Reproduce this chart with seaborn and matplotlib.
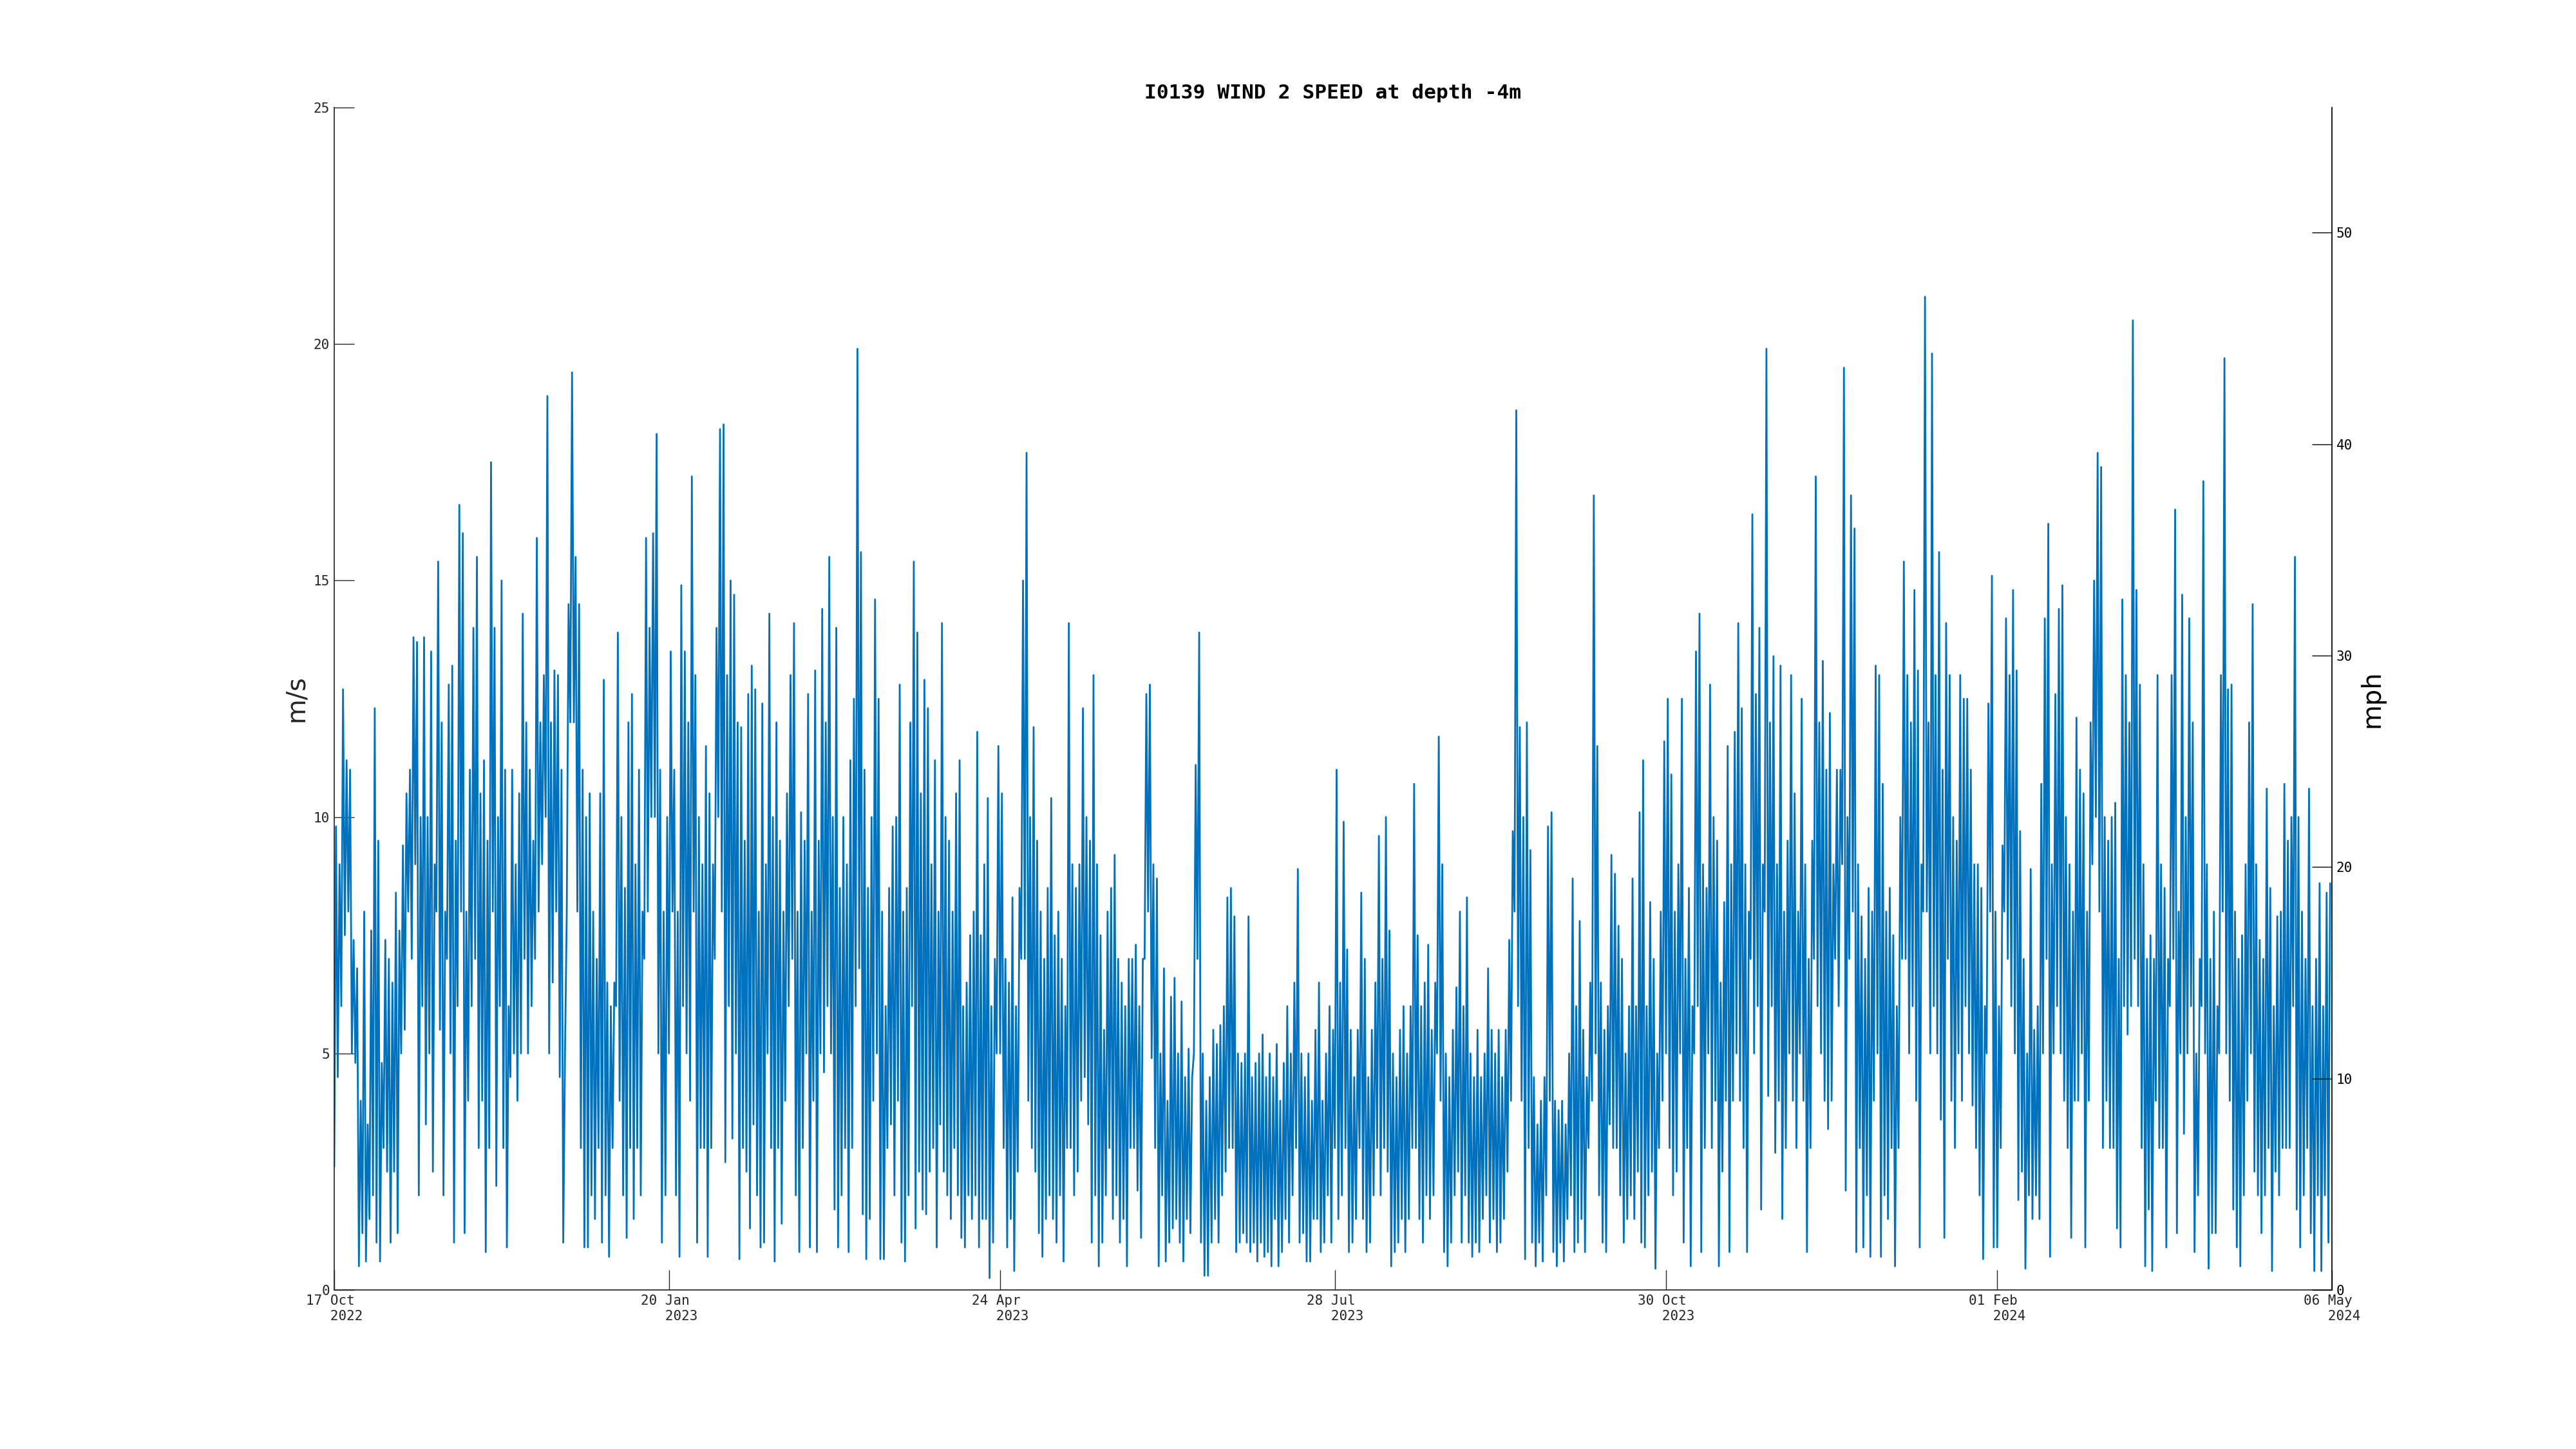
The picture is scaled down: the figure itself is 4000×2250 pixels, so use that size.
import numpy as np
import pandas as pd
import seaborn as sns
import matplotlib.pyplot as plt

# Wind speed (m/s), two samples per day (daily low / high)
oct_feb = [
    2.6, 9.8, 4.5, 9.0, 6.0, 12.7, 7.5, 11.2, 8.0, 11.0, 5.0, 7.4, 4.8, 6.8, 0.5, 4.0, 1.2, 8.0, 0.6, 3.5,
    1.5, 7.6, 2.0, 12.3, 1.0, 9.5, 0.6, 4.8, 3.0, 7.4, 2.5, 7.0, 1.0, 6.5, 2.5, 8.4, 1.2, 7.6, 5.0, 9.4,
    5.5, 10.5, 8.0, 11.0, 7.0, 13.8, 9.0, 13.7, 2.0, 10.0, 6.0, 13.8, 3.5, 10.0, 5.0, 13.5, 2.5, 9.0, 8.0, 15.4,
    5.5, 12.0, 2.0, 8.0, 7.0, 12.8, 5.0, 13.2, 1.0, 9.5, 6.0, 16.6, 8.0, 16.0, 1.2, 8.0, 4.0, 11.0, 6.0, 14.0,
    7.0, 15.5, 3.0, 10.5, 4.0, 11.2, 0.8, 9.5, 3.0, 17.5, 8.0, 14.0, 2.2, 10.0, 6.0, 15.0, 3.0, 11.0, 0.9, 6.0,
    4.5, 11.0, 5.0, 9.0, 4.0, 10.5, 5.0, 14.3, 7.0, 12.0, 5.0, 11.0, 6.0, 9.5, 7.0, 15.9, 8.0, 12.0, 9.0, 13.0,
    10.0, 18.9, 5.0, 12.0, 6.5, 13.1, 8.0, 13.0, 4.5, 11.0, 1.0, 5.0, 8.0, 14.5, 12.0, 19.4, 12.0, 15.5, 8.0, 14.5,
    3.0, 11.0, 0.9, 10.0, 0.9, 10.5, 2.0, 8.0, 1.5, 7.0, 3.0, 10.5, 1.0, 12.9, 2.0, 6.5, 0.7, 6.0, 3.0, 6.5,
    6.0, 13.9, 4.0, 10.0, 2.0, 8.5, 1.1, 12.0, 3.0, 12.6, 1.5, 9.0, 3.0, 11.0, 2.0, 8.0, 7.0, 15.9, 8.0, 14.0,
    10.0, 16.0, 10.0, 18.1, 5.0, 11.0, 1.0, 8.0, 2.0, 10.0, 5.0, 13.5, 8.0, 11.0, 2.0, 8.0, 0.7, 14.9, 6.0, 13.5,
    5.0, 12.0, 4.0, 17.2, 8.0, 13.0, 1.0, 10.0, 3.0, 9.0, 3.0, 11.5, 0.7, 10.5, 3.0, 9.0, 7.0, 14.0, 10.0, 18.2,
    8.0, 18.3, 2.7, 13.0, 6.0, 15.0,
]
feb_jun = [
    3.2, 14.7, 5.0, 12.0, 0.65, 11.9, 3.0, 9.5, 2.5, 12.6, 1.3, 13.2, 3.5, 12.7, 2.0, 8.0, 0.9, 12.4, 1.0, 9.0,
    5.0, 14.3, 3.0, 10.0, 0.6, 12.0, 3.0, 9.5, 1.4, 8.0, 4.0, 10.5, 6.0, 13.0, 7.0, 14.1, 2.0, 8.0, 0.8, 10.1,
    3.0, 9.5, 5.0, 12.6, 0.9, 8.0, 4.0, 13.1, 0.8, 9.5, 5.0, 14.4, 4.6, 12.0, 6.0, 15.5, 5.0, 10.0, 1.7, 14.0,
    0.9, 8.5, 2.0, 10.0, 3.0, 9.0, 0.8, 11.2, 3.0, 12.5, 6.0, 19.9, 6.8, 15.6, 1.6, 11.0, 0.65, 8.5, 1.5, 10.0,
    4.0, 14.6, 5.0, 12.5, 0.65, 8.0, 0.65, 6.0, 3.0, 8.5, 3.5, 9.8, 2.0, 10.0, 4.0, 12.8, 1.0, 8.0, 0.6, 8.5,
    2.0, 12.0, 6.0, 15.4, 1.3, 13.9, 2.5, 10.5, 1.7, 12.9, 1.6, 12.3, 2.5, 9.0, 3.0, 11.2, 0.9, 8.0, 3.5, 14.1,
    2.5, 10.0, 2.0, 9.5, 1.5, 8.0, 3.0, 10.5, 2.0, 11.2, 1.1, 6.0, 0.9, 6.5, 2.0, 7.5, 1.5, 8.0, 2.0, 11.8,
    0.9, 7.5, 1.5, 9.0, 1.5, 10.4, 0.25, 6.0, 1.0, 7.0, 5.0, 11.5, 5.0, 10.5, 3.0, 7.0, 0.9, 6.5, 1.5, 8.3,
    0.4, 6.0, 2.5, 8.5, 7.0, 15.0, 7.0, 17.7, 4.0, 10.0, 3.0, 11.9, 2.5, 9.5, 1.2, 8.0, 0.7, 7.0, 1.5, 8.5,
    2.0, 10.4, 1.5, 7.5, 1.0, 8.0, 2.0, 7.0, 0.6, 6.0, 3.0, 14.1, 3.0, 9.0, 2.0, 8.5, 2.5, 9.0, 4.0, 12.3,
    4.5, 10.0, 3.5, 9.5, 1.0, 13.0, 2.0, 9.0, 0.5, 7.5, 1.0, 5.5, 2.0, 8.0, 3.0, 8.5, 1.5, 9.2, 2.0, 7.0,
    1.0, 6.5, 1.5, 6.0, 0.5, 7.0, 3.0, 7.0,
]
jun_sep = [
    3.0, 7.3, 2.1, 6.0, 1.1, 7.0, 7.0, 12.6, 8.0, 12.8, 4.9, 9.0, 3.0, 8.7, 0.5, 5.0, 2.0, 6.8, 0.6, 4.0,
    1.0, 6.2, 1.3, 6.6, 1.5, 5.0, 1.0, 6.1, 0.6, 4.5, 1.5, 5.1, 1.2, 4.5, 5.0, 11.1, 7.0, 13.9, 1.0, 5.0,
    0.3, 4.0, 0.3, 4.5, 1.0, 5.5, 1.5, 5.2, 1.0, 5.6, 2.0, 6.0, 2.5, 8.3, 3.0, 8.5, 3.0, 7.9, 0.8, 5.0,
    1.0, 4.8, 1.2, 5.0, 1.0, 7.9, 0.8, 4.5, 1.0, 4.8, 0.6, 5.0, 1.0, 5.4, 0.7, 4.5, 0.8, 5.0, 0.5, 4.5,
    1.5, 5.2, 0.5, 4.0, 0.8, 4.8, 1.5, 6.0, 1.0, 5.0, 2.0, 6.5, 3.0, 8.9, 1.0, 5.0, 1.2, 4.5, 0.6, 5.0,
    0.6, 4.0, 1.5, 5.5, 1.5, 6.5, 0.8, 4.0, 1.0, 5.0, 2.0, 6.0, 1.0, 5.5, 3.0, 11.0, 1.5, 6.5, 2.0, 9.9,
    3.0, 7.2, 0.8, 5.5, 1.0, 4.5, 1.5, 5.5, 3.0, 8.4, 1.5, 7.0, 0.8, 4.5, 1.0, 5.5, 2.0, 6.5, 3.0, 9.6,
    2.0, 7.0, 3.0, 10.0, 2.5, 7.6, 0.5, 5.0, 0.8, 4.5, 1.0, 5.5, 1.5, 6.0, 0.8, 5.0, 1.5, 6.0, 3.0, 10.7,
    3.0, 7.5, 1.5, 6.0, 1.0, 6.5, 2.0, 7.3, 1.5, 5.5, 2.0, 6.5, 5.0, 11.7, 4.0, 9.0, 0.8, 5.0, 0.5, 4.5,
    1.0, 5.5, 2.0, 6.4, 2.5, 8.0, 1.0, 6.0, 2.0, 8.3, 1.0, 5.0, 0.7, 4.5, 1.0, 5.5, 0.8, 4.5, 1.5, 5.0,
    2.0, 6.8, 1.0, 5.5, 1.5, 5.0, 0.8, 5.5, 1.0, 4.5, 1.5, 5.5, 2.5, 7.4, 4.0, 9.7, 8.0, 18.6, 6.0, 11.9,
    4.0, 10.0, 0.65, 12.0, 3.0, 9.3,
]
sep_jan = [
    1.0, 4.5, 0.5, 3.5, 1.0, 4.0, 0.6, 4.5, 2.0, 9.8, 4.0, 10.1, 0.8, 4.0, 0.5, 3.8, 1.0, 4.0, 0.6, 3.5,
    1.5, 5.0, 2.0, 8.7, 0.8, 6.0, 1.0, 7.8, 1.5, 5.5, 0.8, 4.5, 3.0, 6.5, 4.0, 16.8, 5.0, 11.5, 2.0, 6.5,
    1.0, 5.5, 0.8, 6.0, 3.5, 9.2, 3.0, 8.8, 3.0, 7.7, 2.0, 7.0, 1.0, 5.0, 1.5, 6.0, 2.0, 8.7, 1.5, 6.0,
    2.5, 10.1, 1.0, 11.2, 0.9, 6.0, 2.0, 8.2, 2.5, 7.0, 0.45, 5.0, 3.0, 8.0, 4.0, 11.6, 5.0, 12.5, 3.0, 10.9,
    2.0, 8.0, 2.5, 9.0, 5.0, 12.5, 1.0, 7.0, 3.0, 8.5, 0.5, 6.0, 5.0, 13.5, 6.0, 14.3, 0.8, 9.0, 3.0, 8.5,
    5.0, 12.8, 3.0, 10.0, 4.0, 9.5, 0.5, 6.5, 2.5, 8.2, 4.0, 11.5, 0.8, 9.0, 4.0, 11.8, 5.0, 14.1, 4.0, 12.3,
    3.0, 9.0, 0.8, 8.0, 7.0, 16.4, 5.0, 12.6, 6.0, 14.0, 1.7, 9.0, 8.0, 19.9, 4.1, 12.0, 6.0, 13.4, 2.9, 9.0,
    4.0, 13.2, 1.5, 8.0, 3.0, 9.5, 5.0, 13.0, 4.0, 10.5, 3.0, 8.0, 5.0, 12.5, 4.0, 9.0, 0.8, 7.0, 3.0, 9.5,
    7.0, 17.2, 6.0, 12.0, 5.0, 13.3, 4.0, 11.0, 3.4, 12.2, 4.0, 9.0, 7.0, 11.0, 6.0, 11.0, 9.0, 19.5, 2.1, 10.0,
    7.0, 16.8, 8.0, 16.1, 0.8, 9.0, 3.0, 7.9, 0.9, 7.0, 2.0, 8.5, 0.7, 8.0, 4.0, 13.2, 5.0, 13.0, 0.7, 10.7,
    2.0, 8.0, 1.5, 8.5, 3.0, 7.5, 0.5, 6.0, 3.0, 10.0, 7.0, 15.4, 7.0, 13.0, 5.0, 12.0, 6.0, 14.8, 4.0, 13.1,
    0.9, 9.0, 8.0, 21.0, 8.0, 12.0,
]
jan_may = [
    5.0, 19.8, 6.0, 13.0, 5.0, 15.6, 3.6, 11.0, 1.1, 14.1, 7.0, 13.0, 4.0, 10.0, 3.0, 9.5, 5.0, 13.0, 4.0, 12.5,
    6.0, 12.5, 5.0, 11.0, 3.9, 9.0, 3.0, 9.0, 2.0, 8.5, 0.65, 6.0, 5.0, 12.4, 8.0, 15.1, 0.9, 8.0, 0.9, 6.0,
    3.0, 9.4, 8.0, 14.2, 7.0, 13.0, 6.0, 14.8, 5.0, 13.1, 1.9, 9.7, 2.5, 7.0, 0.45, 5.0, 2.0, 8.9, 1.5, 5.5,
    2.0, 6.0, 1.5, 10.7, 5.0, 14.2, 7.0, 16.2, 0.7, 9.0, 5.0, 12.6, 6.0, 14.4, 5.0, 14.9, 4.0, 10.0, 3.0, 9.0,
    1.1, 8.0, 4.0, 12.1, 4.0, 11.0, 5.0, 10.5, 0.9, 8.0, 4.0, 12.0, 9.0, 15.0, 10.0, 17.7, 8.0, 17.4, 3.0, 10.0,
    4.0, 9.5, 3.0, 10.0, 3.0, 10.3, 1.3, 7.0, 0.9, 14.6, 6.0, 13.0, 5.4, 12.0, 6.0, 20.5, 7.0, 14.8, 6.0, 12.8,
    3.0, 9.0, 0.5, 7.0, 1.7, 7.5, 0.4, 7.0, 4.0, 13.0, 3.0, 9.0, 3.0, 8.5, 0.9, 7.0, 6.0, 13.0, 7.0, 16.5,
    1.2, 8.0, 5.0, 14.7, 3.3, 10.0, 5.0, 14.2, 6.0, 12.0, 0.8, 5.0, 2.0, 7.0, 6.0, 17.1, 5.0, 9.0, 0.45, 7.0,
    1.2, 8.0, 1.2, 6.0, 5.0, 13.0, 8.0, 19.7, 5.0, 12.7, 4.0, 12.8, 1.7, 8.0, 0.9, 7.0, 0.5, 7.5, 2.0, 9.0,
    4.0, 12.0, 5.0, 14.5, 2.5, 9.0, 2.0, 7.4, 1.2, 7.0, 2.0, 10.6, 3.0, 8.5, 0.4, 6.0, 2.5, 7.9, 2.0, 8.0,
    3.0, 10.7, 3.0, 9.5, 3.0, 10.0, 6.0, 15.5, 1.7, 10.0, 0.9, 8.0, 2.0, 7.0, 3.0, 10.6, 1.2, 6.0, 0.4, 7.0,
    2.0, 8.6, 0.4, 6.0, 2.0, 8.4, 1.0, 8.6,
]

start_date = "2022-10-17"
end_date = "2024-05-06"
tick_dates = ["2022-10-17", "2023-01-20", "2023-04-24", "2023-07-28",
              "2023-10-30", "2024-02-01", "2024-05-06"]
tick_labels = ["17 Oct\n   2022", "20 Jan\n   2023", "24 Apr\n   2023", "28 Jul\n   2023",
               "30 Oct\n   2023", "01 Feb\n   2024", "06 May\n   2024"]
ms_ticks = [0, 5, 10, 15, 20, 25]
mph_ticks = [0, 10, 20, 30, 40, 50]
MS_TO_MPH = 2.23694

speed = oct_feb + feb_jun + jun_sep + sep_jan + jan_may
df = pd.DataFrame({
    "time": pd.date_range(start_date, periods=len(speed), freq="12h"),
    "speed": speed,
})

sns.set_style("ticks")
plt.rcParams["font.family"] = ["DejaVu Sans Mono", "DejaVu Sans"]

fig = plt.figure(figsize=(16, 9), dpi=250)
ax = fig.add_axes([0.12975, 0.10978, 0.7755, 0.816])

sns.lineplot(data=df, x="time", y="speed", ax=ax, color="#0072BD",
             linewidth=0.8, estimator=None)

ax.set_xlim(pd.Timestamp(start_date), pd.Timestamp(end_date))
ax.set_ylim(0, 25)
ax.set_xticks(pd.to_datetime(tick_dates))
ax.set_xticklabels(tick_labels, fontsize=6, color="#262626",
                   multialignment="left", linespacing=1.25)
ax.set_yticks(ms_ticks)
ax.set_yticklabels([str(t) for t in ms_ticks], fontsize=6, color="#262626")
ax.tick_params(axis="both", direction="in", length=9, width=0.4, pad=2,
               color="#262626")
ax.set_xlabel("")
ax.set_ylabel("m/s", fontsize=11.5, family="DejaVu Sans", color="#262626")
ax.yaxis.set_label_coords(-0.0127, 0.5)
for side in ["top", "right"]:
    ax.spines[side].set_visible(False)
for side in ["left", "bottom"]:
    ax.spines[side].set_linewidth(0.5)
    ax.spines[side].set_color("#262626")

ax2 = ax.twinx()
ax2.set_ylim(0, 25 * MS_TO_MPH)
ax2.set_yticks(mph_ticks)
ax2.set_yticklabels([str(t) for t in mph_ticks], fontsize=6, color="black")
ax2.tick_params(axis="y", direction="in", length=9, width=0.4, pad=2,
                color="black")
ax2.set_ylabel("mph", fontsize=11.5, family="DejaVu Sans", color="black")
ax2.yaxis.set_label_coords(1.0137, 0.5)
for side in ["top", "left", "bottom"]:
    ax2.spines[side].set_visible(False)
ax2.spines["right"].set_linewidth(0.5)
ax2.spines["right"].set_color("black")

ax.set_title("I0139 WIND 2 SPEED at depth -4m", fontsize=9, fontweight="bold",
             color="black", pad=4)

fig.savefig("out.png", dpi=250, facecolor="white")
